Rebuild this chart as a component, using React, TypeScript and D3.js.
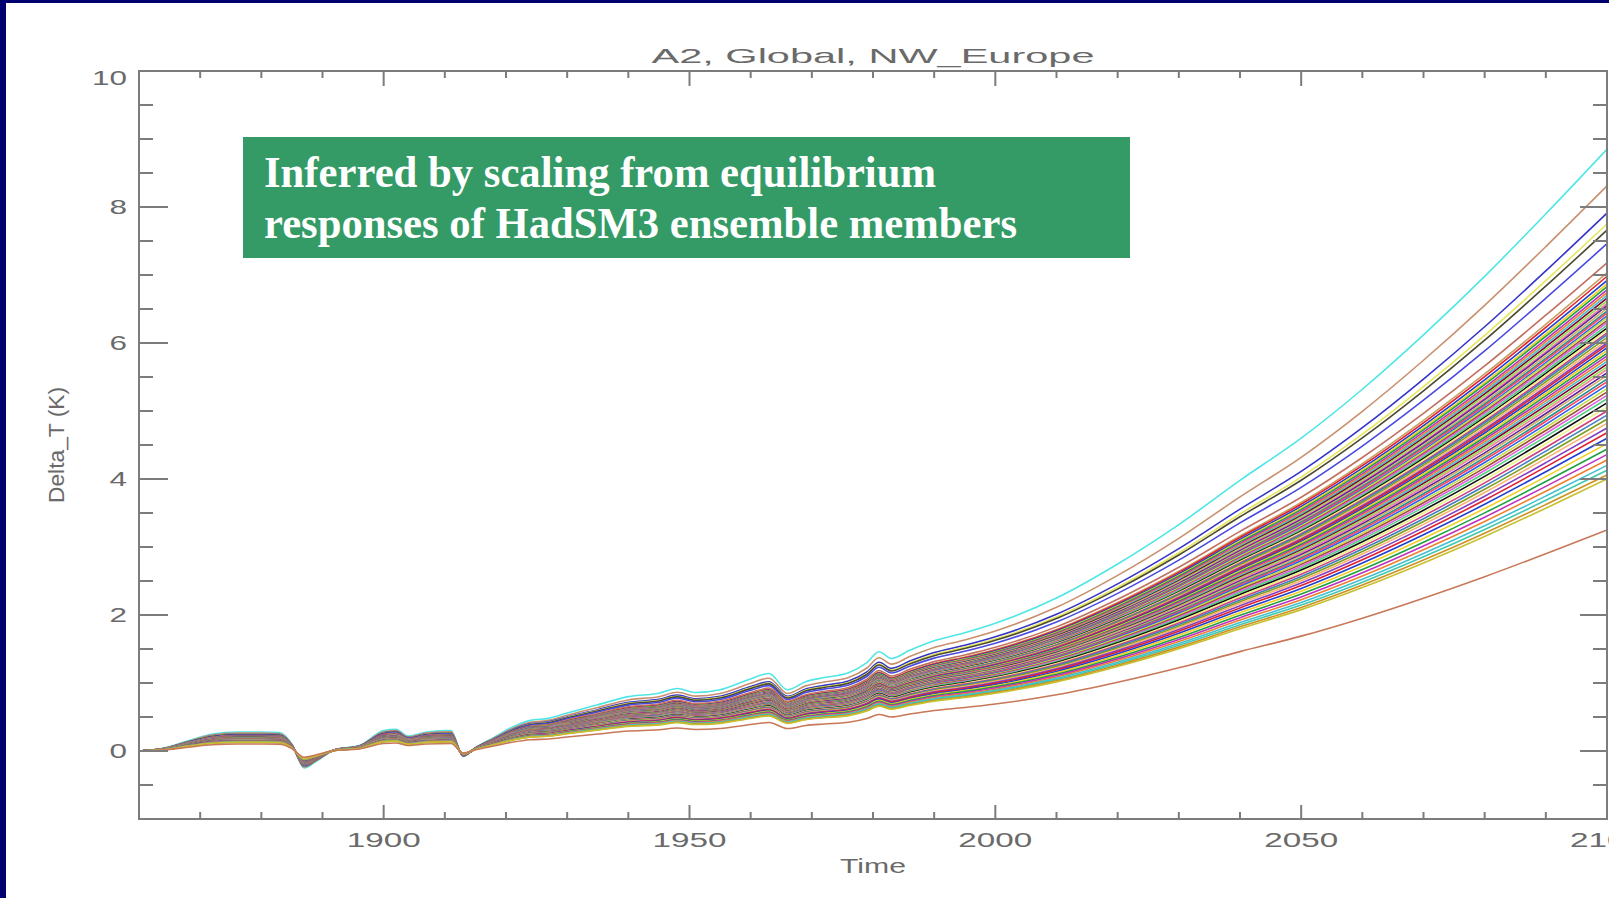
import React from "react";
import * as d3 from "d3";

// Template: top (cyan) ensemble member
const years = [1860, 1864, 1868, 1872, 1876, 1880, 1883, 1885, 1887, 1889, 1892, 1896, 1900, 1902, 1904, 1907, 1911, 1913, 1915, 1918, 1921, 1924, 1927, 1930, 1935, 1940, 1945, 1948, 1951, 1955, 1960, 1963, 1966, 1969, 1972, 1976, 1979, 1981, 1983, 1986, 1990, 1995, 2000, 2010, 2020, 2030, 2040, 2050, 2060, 2070, 2080, 2090, 2100];
const topMember = [0, 0.04, 0.15, 0.25, 0.28, 0.28, 0.27, 0.1, -0.25, -0.15, 0.02, 0.08, 0.3, 0.32, 0.22, 0.28, 0.3, -0.08, 0.05, 0.2, 0.35, 0.45, 0.48, 0.56, 0.68, 0.8, 0.85, 0.92, 0.86, 0.9, 1.06, 1.14, 0.9, 1.02, 1.08, 1.15, 1.3, 1.46, 1.36, 1.48, 1.62, 1.74, 1.88, 2.25, 2.75, 3.33, 3.98, 4.6, 5.32, 6.12, 6.98, 7.9, 8.85];

// Warming in 2100 of every ensemble member (read at the right edge)
const memberEnds = [8.85, 8.31, 7.91, 7.75, 7.66, 7.46, 7.18, 7.03, 6.98, 6.92, 6.87, 6.83, 6.78, 6.74, 6.7, 6.66, 6.62, 6.58, 6.55, 6.51, 6.47, 6.44, 6.4, 6.37, 6.33, 6.3, 6.26, 6.22, 6.19, 6.15, 6.12, 6.08, 6.04, 6.0, 5.97, 5.93, 5.89, 5.85, 5.81, 5.77, 5.73, 5.69, 5.65, 5.61, 5.56, 5.52, 5.47, 5.43, 5.38, 5.33, 5.28, 5.23, 5.18, 5.12, 5.06, 5.0, 4.94, 4.88, 4.82, 4.75, 4.68, 4.6, 4.52, 4.44, 4.36, 4.28, 4.2, 4.13, 4.06, 4.0, 3.25];

const outlierColors = ["#4fe6e6", "#c8906e", "#3434c8", "#e6e65a", "#4a4a30", "#4a4ae0", "#c07060", "#c8a060"];
const bandPalette = ["#e02030", "#2040d0", "#f0d020", "#20a040", "#c030c0", "#f08030", "#40c0d0", "#800030", "#90e050", "#f080a0", "#6020a0", "#d0b060", "#209090", "#ff4060", "#3060f0", "#c0e040", "#a05030", "#e060e0", "#50d080", "#101010", "#f0f080", "#d04080", "#4080c0", "#80a020", "#ffb070", "#8040c0"];
const bottomColors = ["#40c8b0", "#d09020", "#c8c030", "#c87858"];

const xMajor = [1900, 1950, 2000, 2050, 2100];
const xMinor = [1870, 1880, 1890, 1910, 1920, 1930, 1940, 1960, 1970, 1980, 1990, 2010, 2020, 2030, 2040, 2060, 2070, 2080, 2090];
const yMajor = [0, 2, 4, 6, 8, 10];
const yMinor = [-0.5, 0.5, 1, 1.5, 2.5, 3, 3.5, 4.5, 5, 5.5, 6.5, 7, 7.5, 8.5, 9, 9.5];

const W = 1609;
const H = 898;
const left = 139, right = 1607, top = 71, bottom = 819;
const axisColor = "#7c7c7c";
const textColor = "#6a6a6a";
const labelFont = "'Liberation Sans', Arial, sans-serif";

export default function App() {
  const x = d3.scaleLinear().domain([1860, 2100]).range([left, right]);
  const y = d3.scaleLinear().domain([-1, 10]).range([bottom, top]);
  const topEnd = topMember[topMember.length - 1];
  const line = d3
    .line<number>()
    .x((_, i) => x(years[i]))
    .y((v) => y(v))
    .curve(d3.curveMonotoneX);

  const nBottom = bottomColors.length;
  const colorFor = (i: number) => {
    if (i < outlierColors.length) return outlierColors[i];
    const fromEnd = memberEnds.length - 1 - i;
    if (fromEnd < nBottom) return bottomColors[nBottom - 1 - fromEnd];
    return bandPalette[(i - outlierColors.length) % bandPalette.length];
  };

  const members = memberEnds.map((end, i) => ({
    values: topMember.map((v) => (v * end) / topEnd),
    color: colorFor(i),
  }));

  return (
    <svg
      width={W}
      height={H}
      style={{ position: "absolute", left: 0, top: 0, background: "#ffffff" }}
    >
      <rect x={0} y={0} width={W} height={H} fill="#ffffff" />
      <rect x={0} y={0} width={6} height={H} fill="#00006e" />
      <rect x={0} y={0} width={W} height={3} fill="#00006e" />

      {/* title */}
      <text
        x={(left + right) / 2}
        y={63}
        textAnchor="middle"
        fontFamily={labelFont}
        fontSize={21}
        fill={textColor}
        textLength={443}
        lengthAdjust="spacingAndGlyphs"
      >
        A2, Global, NW_Europe
      </text>

      {/* members */}
      <g fill="none" strokeWidth={1.6}>
        {members.map((m, i) => (
          <path key={i} d={line(m.values) || ""} stroke={m.color} />
        ))}
      </g>

      {/* frame */}
      <rect x={left} y={top} width={right - left} height={bottom - top} fill="none" stroke={axisColor} strokeWidth={2} />

      {/* ticks */}
      <g stroke={axisColor} strokeWidth={2}>
        {xMajor.map((t) => (
          <g key={"xM" + t}>
            <line x1={x(t)} x2={x(t)} y1={bottom} y2={bottom - 14} />
            <line x1={x(t)} x2={x(t)} y1={top} y2={top + 15} />
          </g>
        ))}
        {xMinor.map((t) => (
          <g key={"xm" + t}>
            <line x1={x(t)} x2={x(t)} y1={bottom} y2={bottom - 7} />
            <line x1={x(t)} x2={x(t)} y1={top} y2={top + 7} />
          </g>
        ))}
        {yMajor.map((t) => (
          <g key={"yM" + t}>
            <line x1={left} x2={left + 29} y1={y(t)} y2={y(t)} />
            <line x1={right} x2={right - 27} y1={y(t)} y2={y(t)} />
          </g>
        ))}
        {yMinor.map((t) => (
          <g key={"ym" + t}>
            <line x1={left} x2={left + 14} y1={y(t)} y2={y(t)} />
            <line x1={right} x2={right - 14} y1={y(t)} y2={y(t)} />
          </g>
        ))}
      </g>

      {/* tick labels */}
      <g fontFamily={labelFont} fontSize={20.5} fill={textColor}>
        {xMajor.map((t) => (
          <text
            key={"xl" + t}
            x={x(t)}
            y={847}
            textAnchor="middle"
            textLength={74}
            lengthAdjust="spacingAndGlyphs"
          >
            {String(t)}
          </text>
        ))}
        {yMajor.map((t) => {
          const s = String(t);
          const shift = t === 10 ? 7 : 0;
          return (
            <text
              key={"yl" + t}
              x={127}
              y={y(t) + 7.3 + shift}
              textAnchor="end"
              textLength={s.length * 17.5}
              lengthAdjust="spacingAndGlyphs"
            >
              {s}
            </text>
          );
        })}
      </g>

      {/* axis titles */}
      <text
        x={(left + right) / 2}
        y={873}
        textAnchor="middle"
        fontFamily={labelFont}
        fontSize={20.5}
        fill={textColor}
        textLength={66}
        lengthAdjust="spacingAndGlyphs"
      >
        Time
      </text>
      <text
        transform={`translate(64, ${(top + bottom) / 2}) rotate(-90)`}
        textAnchor="middle"
        fontFamily={labelFont}
        fontSize={22.5}
        fill={textColor}
        textLength={116}
        lengthAdjust="spacingAndGlyphs"
      >
        Delta_T (K)
      </text>

      {/* annotation box */}
      <rect x={243} y={137} width={887} height={121} fill="#349a66" />
      <g fontFamily="'Liberation Serif', 'Times New Roman', serif" fontWeight="bold" fontSize={44} fill="#ffffff">
        <text x={264} y={187} textLength={672} lengthAdjust="spacingAndGlyphs">
          Inferred by scaling from equilibrium
        </text>
        <text x={264} y={238} textLength={753} lengthAdjust="spacingAndGlyphs">
          responses of HadSM3 ensemble members
        </text>
      </g>
    </svg>
  );
}
